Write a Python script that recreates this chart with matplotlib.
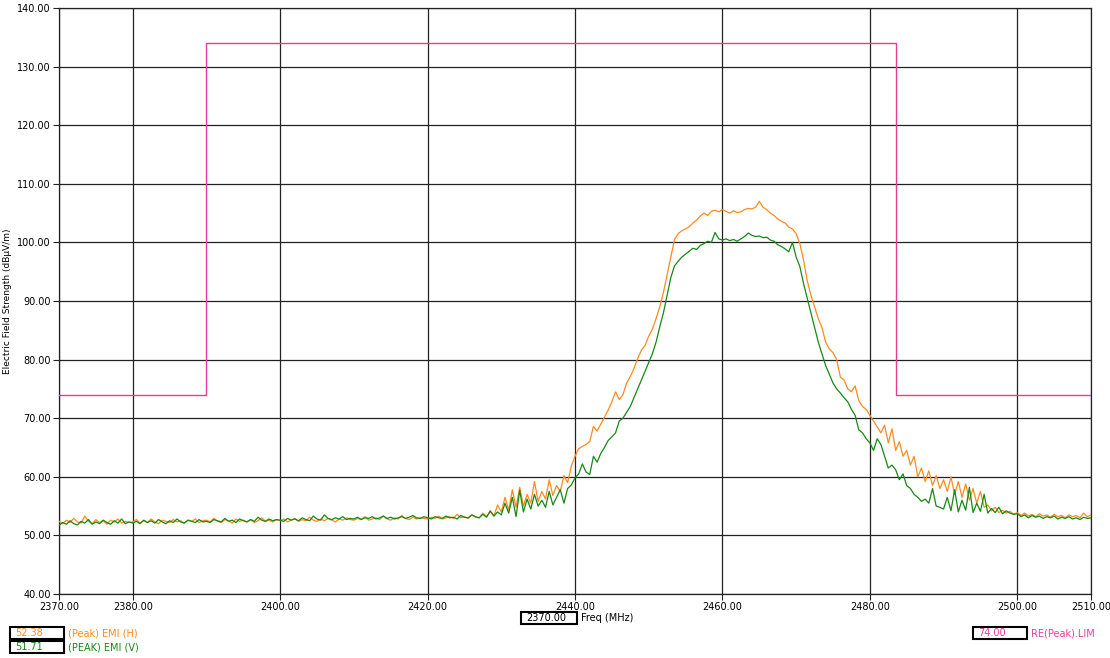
import numpy as np
import matplotlib.pyplot as plt
from matplotlib.patches import Rectangle

# frequency axis, 0.5 MHz steps
freq = np.arange(2370.0, 2510.0 + 0.25, 0.5)

# (Peak) EMI (H) - orange
emi_h = [
    52.4, 52.0, 52.6, 52.2, 52.9, 52.3, 52.1, 53.3, 52.4, 52.0, 52.7, 52.2, 52.5, 51.9, 52.6, 52.3, 52.8, 52.1, 52.4, 52.2,
    52.3, 52.7, 52.1, 52.5, 52.2, 52.8, 52.3, 52.0, 52.6, 52.4, 52.2, 52.7, 52.3, 52.5, 52.1, 52.6, 52.4, 52.8, 52.2, 52.5,
    52.6, 52.3, 52.9, 52.4, 52.2, 52.7, 52.5, 52.1, 52.8, 52.4, 52.6, 52.3, 52.7, 52.2, 52.5, 53.0, 52.4, 52.6, 52.3, 52.7,
    52.5, 52.8, 52.3, 52.6, 52.9, 52.4, 52.7, 52.5, 53.1, 52.6, 52.4, 52.8, 52.5, 52.9, 52.6, 52.3, 52.8, 52.6, 53.0, 52.7,
    52.6, 52.9, 52.7, 53.2, 52.6, 52.8, 53.0, 52.7, 53.3, 52.8, 52.6, 53.0, 52.8, 53.4, 52.9, 52.7, 53.1, 52.8, 53.0, 52.9,
    52.8, 53.1, 52.9, 53.3, 52.8, 53.0, 53.2, 52.9, 53.6, 53.0, 53.2, 52.9, 53.5, 53.1, 53.0, 53.8, 53.2, 54.0, 53.3, 55.2,
    54.0, 56.5, 54.3, 57.8, 54.8, 58.2, 55.0, 57.0, 55.5, 59.2, 55.8, 57.5, 56.2, 59.5, 56.8, 58.5, 57.5, 60.2, 59.0, 61.8,
    63.5, 64.8, 65.2, 65.5, 66.0, 68.6, 67.8, 69.0, 70.2, 71.4, 72.8, 74.5, 73.2, 74.0, 76.0, 77.1, 78.5, 80.2, 81.6, 82.4,
    84.0, 85.2, 87.0, 89.0, 91.5, 94.5, 97.5, 100.5, 101.5, 102.0, 102.3, 102.7, 103.3, 103.8, 104.5, 105.0, 104.6, 105.3, 105.5, 105.2,
    105.6, 105.3, 105.0, 105.4, 105.1, 105.2, 105.6, 105.8, 105.7, 106.0, 107.0, 106.0, 105.6, 105.0, 104.6, 104.0, 103.6, 103.3, 102.6, 102.3,
    101.5, 99.8, 97.0, 93.5, 91.0, 89.0, 87.0, 85.5, 83.0, 81.8, 81.2, 80.0, 77.0, 76.5, 75.0, 74.5, 75.5, 73.0, 72.0, 71.5,
    70.5, 69.5, 68.5, 67.5, 68.8, 65.8, 68.2, 64.5, 66.0, 63.5, 64.5, 62.0, 63.5, 60.0, 61.5, 59.2, 61.0, 58.5, 60.2, 58.0,
    59.5, 57.5, 60.0, 57.0, 59.2, 56.5, 58.8, 56.0, 58.0, 55.5, 57.5, 54.8, 55.2, 54.2, 54.8, 53.9, 54.3, 53.8, 54.1, 53.6,
    53.9, 53.4, 53.8, 53.3, 53.6, 53.2, 53.7, 53.3, 53.5, 53.1, 53.6, 53.2, 53.4, 53.0, 53.5, 53.2, 53.4, 53.0, 53.8, 53.2, 53.5,
]

# (PEAK) EMI (V) - green
emi_v = [
    51.7, 52.2, 51.9, 52.5, 52.0, 51.8, 52.4, 52.1, 52.7, 51.9, 52.3, 52.0, 52.6, 52.2, 51.9, 52.5, 52.1, 52.8, 52.0, 52.3,
    52.1, 52.4, 52.0, 52.6, 52.2, 52.5, 52.1, 52.7, 52.3, 52.0, 52.5, 52.2, 52.8, 52.3, 52.1, 52.6, 52.4, 52.2, 52.7, 52.3,
    52.4, 52.2, 52.7, 52.5, 52.3, 52.9, 52.4, 52.6, 52.2, 52.8, 52.5, 52.3, 52.7, 52.4, 53.1, 52.6, 52.4, 52.8, 52.5, 52.7,
    52.6, 52.4, 52.9, 52.6, 52.8, 52.5, 53.0, 52.7, 52.5, 53.3, 52.8, 52.6, 53.5, 52.9, 52.7, 53.0, 52.8, 53.2, 52.7, 52.9,
    52.8, 53.1, 52.7, 53.0, 52.9, 53.2, 52.8, 53.0, 53.3, 52.9, 53.1, 52.8, 53.0, 53.2, 52.9, 53.1, 53.4, 53.0, 52.9, 53.2,
    53.0, 52.8, 53.2, 53.0, 52.9, 53.3, 53.0, 53.1, 52.8, 53.4, 53.1, 53.0, 53.5, 53.2, 53.0, 53.6, 53.1, 54.2, 53.3, 54.0,
    53.5, 55.5, 53.8, 56.5, 53.2, 57.7, 54.0, 56.2, 54.5, 57.0, 55.0, 56.0, 54.8, 57.5, 55.2, 56.5, 57.8, 55.5, 58.0, 58.6,
    59.8, 60.5, 62.2, 60.8, 60.4, 63.5, 62.5, 64.0, 65.0, 66.2, 66.8, 67.5, 69.5, 70.0, 71.0, 72.0, 73.5, 75.0, 76.5, 78.0,
    79.5, 81.0, 83.0, 85.6, 88.0, 91.0, 94.0, 96.0, 96.8, 97.5, 98.0, 98.5, 99.0, 98.8, 99.5, 99.8, 100.2, 100.0, 101.7, 100.6,
    100.4, 100.6, 100.3, 100.5, 100.2, 100.6, 101.0, 101.6, 101.2, 101.0, 101.1, 100.8, 100.9, 100.4, 100.2, 99.6, 99.3, 98.9, 98.4, 100.0,
    97.5, 95.9, 93.0, 90.5, 88.0, 85.5, 83.0, 81.0, 79.0, 77.5, 76.0, 75.0, 74.3, 73.5, 72.8, 71.5, 70.5, 68.0, 67.5, 66.5,
    65.8, 64.5, 66.5, 65.5, 63.5, 61.5, 62.0, 61.2, 59.5, 60.5, 58.5, 58.0, 57.0, 56.5, 55.8, 56.2, 55.5, 58.0, 55.0, 54.8,
    54.5, 56.5, 54.2, 57.8, 54.0, 56.0, 54.3, 58.2, 53.9, 55.5, 54.1, 57.0, 53.8, 54.6, 53.9, 54.8, 53.7, 54.2, 53.8, 53.6,
    53.7, 53.2, 53.5, 53.0, 53.4, 53.1, 53.3, 52.9, 53.2, 53.0, 53.3, 52.8, 53.1, 52.9, 53.2, 52.8, 53.0, 52.7, 53.1, 52.9, 53.0,
]

# RE(Peak).LIM step limit
lim_freq = [2370.0, 2390.0, 2390.0, 2483.5, 2483.5, 2510.0]
lim_val = [74.0, 74.0, 134.0, 134.0, 74.0, 74.0]

x_ticks = [2370, 2380, 2400, 2420, 2440, 2460, 2480, 2500, 2510]
y_ticks = list(range(40, 141, 10))

c_h = "#FF8A1C"
c_v = "#138A13"
c_lim = "#E63CA0"

fig = plt.figure(figsize=(11.1, 6.58), dpi=100)
ax = fig.add_axes([59 / 1110, 1 - 594 / 658, (1091 - 59) / 1110, (594 - 8) / 658])

ax.plot(lim_freq, lim_val, color=c_lim, lw=1.0, zorder=3)
ax.plot(freq, emi_h, color=c_h, lw=0.9, zorder=4)
ax.plot(freq, emi_v, color=c_v, lw=0.9, zorder=5)

ax.set_xlim(2370, 2510)
ax.set_ylim(40, 140)
ax.set_xticks(x_ticks)
ax.set_xticklabels([f"{v:.2f}" for v in x_ticks])
ax.set_yticks(y_ticks)
ax.set_yticklabels([f"{v:.2f}" for v in y_ticks])
ax.tick_params(labelsize=7, length=4, width=0.8, color="#222222", pad=2)
ax.grid(True, color="#222222", lw=0.9)
ax.set_axisbelow(True)
for s in ax.spines.values():
    s.set_color("#222222")
    s.set_linewidth(0.9)

ax.set_ylabel("Electric Field Strength (dBµV/m)", fontsize=6.5)
ax.yaxis.set_label_coords(-47 / 1032, 0.5)

# bottom readout boxes
def box(x0, y0, w, h, txt, color, label, label_color):
    fig.patches.append(Rectangle((x0 / 1110, 1 - (y0 + h) / 658), w / 1110, h / 658,
                                 transform=fig.transFigure, fill=False,
                                 edgecolor="black", lw=1.5))
    fig.text((x0 + 5) / 1110, 1 - (y0 + h / 2) / 658, txt, color=color,
             fontsize=7, va="center", ha="left")
    fig.text((x0 + w + 4) / 1110, 1 - (y0 + h / 2) / 658, label, color=label_color,
             fontsize=7, va="center", ha="left")

box(521, 612, 56, 12, "2370.00", "black", "Freq (MHz)", "black")
box(10, 627, 54, 12, f"{emi_h[0] - 0.02:.2f}", c_h, "(Peak) EMI (H)", c_h)
box(10, 641, 54, 12, f"{emi_v[0] + 0.01:.2f}", c_v, "(PEAK) EMI (V)", c_v)
box(973, 627, 54, 12, f"{lim_val[0]:.2f}", c_lim, "RE(Peak).LIM", c_lim)

fig.savefig("out.png", dpi=100)
